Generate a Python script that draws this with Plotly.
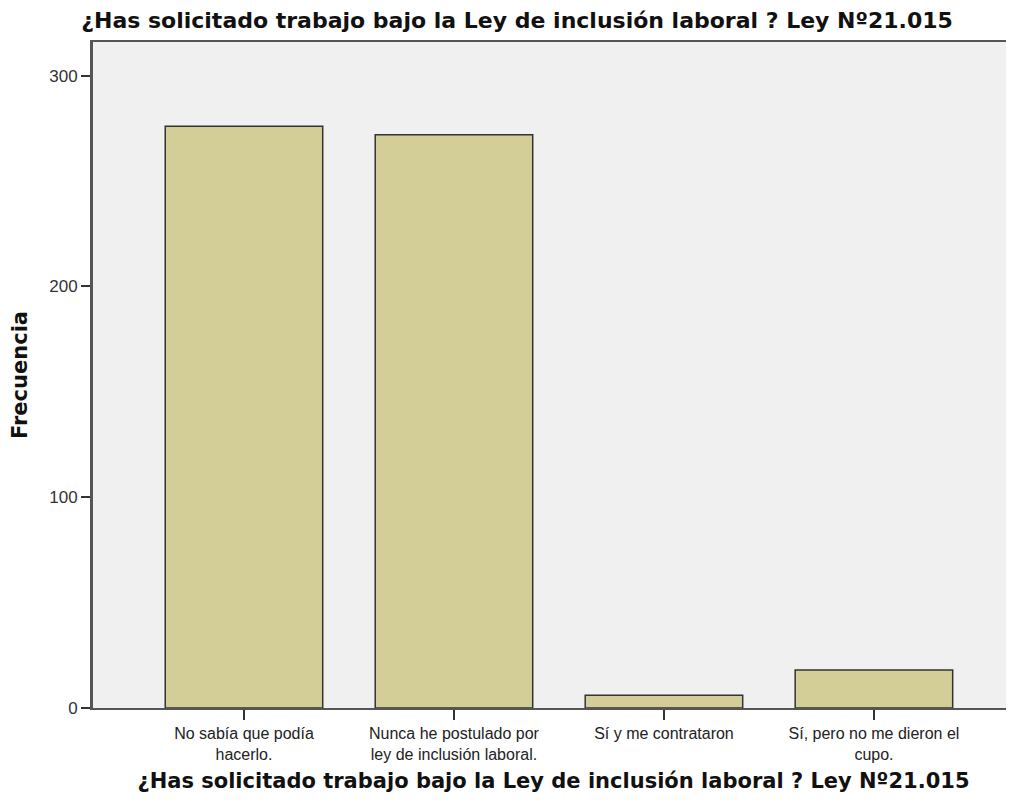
import plotly.graph_objects as go

categorias = [
    "No sabía que podía<br>hacerlo.",
    "Nunca he postulado por<br>ley de inclusión laboral.",
    "Sí y me contrataron",
    "Sí, pero no me dieron el<br>cupo.",
]
frecuencias = [276, 272, 6, 18]
ticks_y = [0, 100, 200, 300]

titulo = "¿Has solicitado trabajo bajo la Ley de inclusión laboral ? Ley Nº21.015"

fig = go.Figure()
fig.add_trace(go.Bar(
    x=list(range(len(categorias))), y=frecuencias,
    width=0.75,
    marker=dict(color="#d3ce97", line=dict(color="#333333", width=1.5)),
))

# la página tiene 8px de margen en el body: se compensa en tamaño y márgenes
fig.update_layout(
    width=1006, height=797,
    paper_bgcolor="white", plot_bgcolor="#f0f0f0",
    margin=dict(l=85, r=0, t=34, b=97),
    font=dict(family="Liberation Sans, Arial, sans-serif", color="#222"),
    title=dict(text="<b>" + titulo + "</b>", x=0.506, xanchor="center",
               y=0.985, yanchor="middle",
               font=dict(family="DejaVu Sans", size=22, color="#111")),
    showlegend=False,
)

fig.update_xaxes(
    range=[-0.719, 3.667], automargin=False,
    tickvals=list(range(len(categorias))), ticktext=categorias,
    ticks="outside", ticklen=10, tickwidth=2, tickcolor="#333",
    tickfont=dict(size=16, color="#222"),
    showline=True, linecolor="#555", linewidth=2, mirror=True,
    showgrid=False, zeroline=False,
    title=dict(text="<b>" + titulo + "</b>",
               font=dict(family="DejaVu Sans", size=21, color="#111"), standoff=11),
)
fig.update_yaxes(
    range=[0, 316], automargin=False,
    tickvals=ticks_y,
    ticks="outside", ticklen=9, tickwidth=2, tickcolor="#333",
    tickfont=dict(size=17, color="#333"),
    showline=True, linecolor="#555", linewidth=3,
    showgrid=False, zeroline=False,
    title=dict(text="<b>Frecuencia</b>",
               font=dict(family="DejaVu Sans", size=21, color="#111"), standoff=26),
)

fig.write_html("out.html")
